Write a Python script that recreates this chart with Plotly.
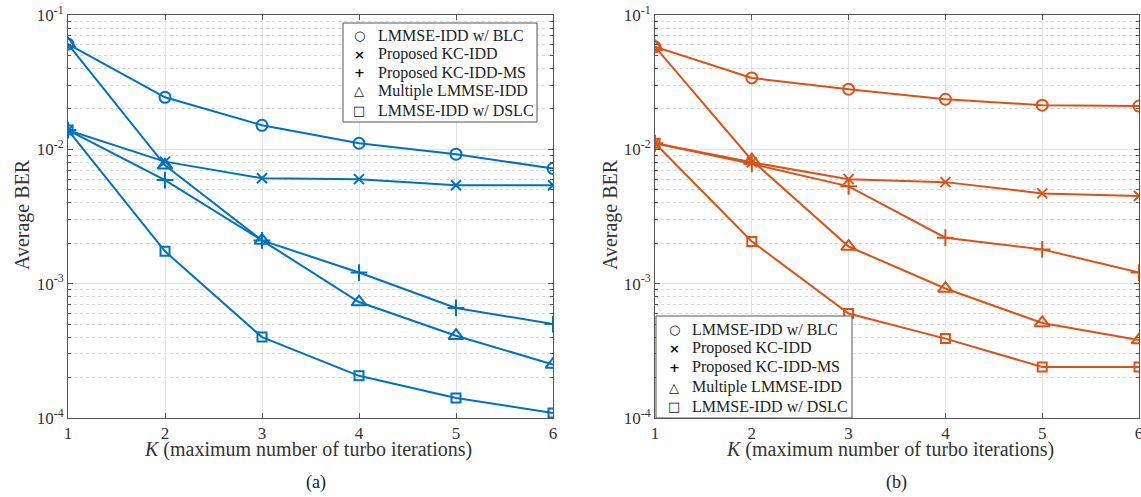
import plotly.graph_objects as go

K = [1, 2, 3, 4, 5, 6]
names = ["LMMSE-IDD w/ BLC", "Proposed KC-IDD", "Proposed KC-IDD-MS",
         "Multiple LMMSE-IDD", "LMMSE-IDD w/ DSLC"]
symbols = ["circle-open", "x-thin-open", "cross-thin-open", "triangle-up-open", "square-open"]
legend_glyphs = ["○", "×", "+", "△", "□"]

# (a)
a_blc = [0.0608, 0.0244, 0.0151, 0.0111, 0.0092, 0.0072]
a_kc = [0.0139, 0.0081, 0.0061, 0.0060, 0.0054, 0.0054]
a_kcms = [0.0139, 0.0059, 0.0021, 0.00121, 0.00066, 0.00050]
a_mult = [0.0608, 0.0076, 0.0021, 0.00073, 0.00041, 0.00025]
a_dslc = [0.0139, 0.00174, 0.00040, 0.000206, 0.000141, 0.000109]

# (b)
b_blc = [0.058, 0.034, 0.028, 0.0236, 0.0213, 0.021]
b_kc = [0.0111, 0.0080, 0.0060, 0.0057, 0.0047, 0.0045]
b_kcms = [0.0111, 0.0078, 0.0053, 0.0022, 0.0018, 0.00121]
b_mult = [0.058, 0.0083, 0.00189, 0.00092, 0.00051, 0.00038]
b_dslc = [0.0111, 0.00206, 0.00060, 0.00039, 0.00024, 0.00024]

ytickvals = [1e-4, 1e-3, 1e-2, 1e-1]
yticktext = ["10<sup>-4</sup>", "10<sup>-3</sup>", "10<sup>-2</sup>", "10<sup>-1</sup>"]
minor_vals = [m * 10.0 ** e for e in (-4, -3, -2) for m in range(2, 10)]

BLUE = "#0072BD"
ORANGE = "#D95319"
FONT = "Liberation Serif"
marker_sizes = [11, 10, 12, 13, 9]

fig = go.Figure()

def add_series(data, color, xa, ya):
    for ys, nm, sym, ms in zip(data, names, symbols, marker_sizes):
        fig.add_trace(go.Scatter(
            x=K, y=ys, name=nm, mode="lines+markers", xaxis=xa, yaxis=ya,
            line=dict(color=color, width=2),
            marker=dict(symbol=sym, size=ms, color=color, line=dict(width=2, color=color)),
            showlegend=False))

add_series([a_blc, a_kc, a_kcms, a_mult, a_dslc], BLUE, "x", "y")
add_series([b_blc, b_kc, b_kcms, b_mult, b_dslc], ORANGE, "x2", "y2")

W, H = 1141, 497
def px(x):
    return x / W
def py(y):
    return 1 - y / H

xdomA = [px(68), px(553)]
xdomB = [px(655), px(1139)]
ydom = [py(418), py(15)]

axis_common = dict(
    showline=True, linecolor="#555", linewidth=1, mirror="ticks",
    ticks="inside", ticklen=5, tickcolor="#555", automargin=False,
    ticklabeloverflow="allow",
    tickfont=dict(family=FONT, size=17, color="#333"),
    gridcolor="#e3e3e3", gridwidth=1, zeroline=False)

xax = dict(axis_common, range=[1, 6], tickvals=K, ticktext=[str(k) for k in K])
yax = dict(axis_common, type="log", range=[-4, -1], tickvals=ytickvals, ticktext=yticktext,
           minor=dict(tickvals=minor_vals, showgrid=True, gridcolor="#d9d9d9",
                      griddash="dot", ticks="inside", ticklen=3, tickcolor="#555"))

fig.update_layout(
    width=W, height=H, margin=dict(l=0, r=0, t=0, b=0),
    paper_bgcolor="white", plot_bgcolor="white",
    font=dict(family=FONT, size=16, color="#333"),
    xaxis=dict(xax, domain=xdomA, anchor="y"),
    yaxis=dict(yax, domain=ydom, anchor="x"),
    xaxis2=dict(xax, domain=xdomB, anchor="y2"),
    yaxis2=dict(yax, domain=ydom, anchor="x2"),
    showlegend=False,
)

ann = []
shapes = []
# captions and axis titles
for cx, lab in ((316, "(a)"), (897, "(b)")):
    ann.append(dict(x=px(cx), y=py(482), xref="paper", yref="paper", text=lab,
                    xanchor="center", yanchor="middle",
                    showarrow=False, font=dict(family=FONT, size=18, color="#222")))
for cx in (308, 890):
    ann.append(dict(x=px(cx), y=py(449), xref="paper", yref="paper",
                    text="<i>K</i> (maximum number of turbo iterations)",
                    xanchor="center", yanchor="middle",
                    showarrow=False, font=dict(family=FONT, size=20, color="#333")))
for cx in (22, 610):
    ann.append(dict(x=px(cx), y=py(215), xref="paper", yref="paper", text="Average BER",
                    textangle=-90, xanchor="center", yanchor="middle", showarrow=False,
                    font=dict(family=FONT, size=20, color="#333")))

# legends drawn as boxed text
def add_legend(box, sym_x, txt_x, rows):
    x0, y0, x1, y1 = box
    shapes.append(dict(type="rect", xref="paper", yref="paper",
                       x0=px(x0), x1=px(x1), y0=py(y1), y1=py(y0),
                       line=dict(color="#555", width=1), fillcolor="white", layer="above"))
    for g, nm, ry in zip(legend_glyphs, names, rows):
        ann.append(dict(x=px(sym_x), y=py(ry), xref="paper", yref="paper", text="<b>" + g + "</b>",
                        xanchor="center", yanchor="middle", showarrow=False,
                        font=dict(family="DejaVu Sans", size=13, color="#111")))
        ann.append(dict(x=px(txt_x), y=py(ry), xref="paper", yref="paper", text=nm,
                        xanchor="left", yanchor="middle", showarrow=False,
                        font=dict(family=FONT, size=16, color="#222")))

add_legend((343, 23, 537, 122), 359, 376, [35, 54, 73, 91, 110])
add_legend((656, 316, 852, 418), 674, 690, [329, 348, 367, 387, 406])

fig.update_layout(annotations=ann, shapes=shapes)

fig.write_html("out.html")
